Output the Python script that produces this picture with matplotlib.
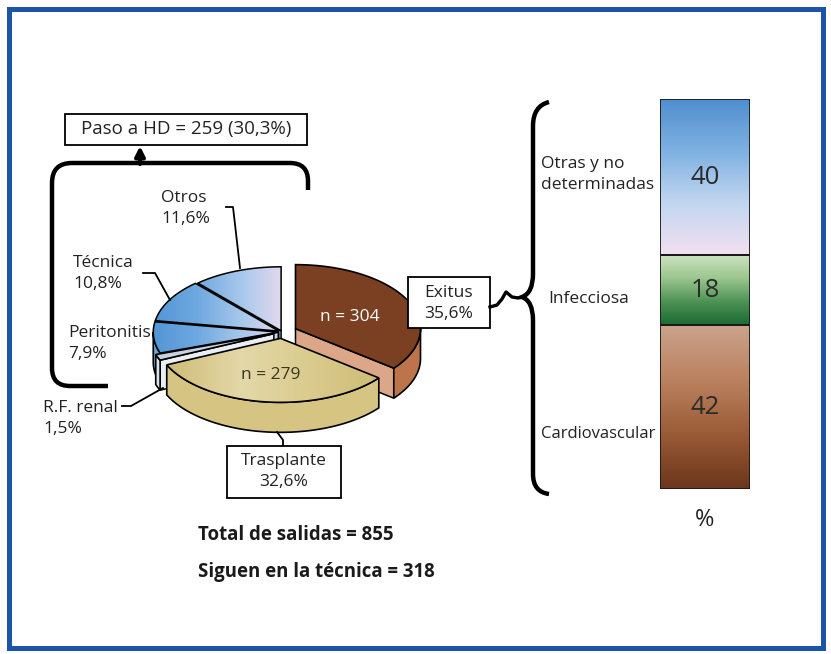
import numpy as np
import matplotlib
matplotlib.use('Agg')
import matplotlib.pyplot as plt
from matplotlib.patches import Polygon, Rectangle, PathPatch
from matplotlib.path import Path
from matplotlib.colors import LinearSegmentedColormap

plt.rcParams['font.family'] = ['Open Sans', 'DejaVu Sans']

# ---- datos ----
causas = ['Exitus', 'Trasplante', 'R.F. renal', 'Peritonitis', 'Técnica', 'Otros']
porcentajes = [35.6, 32.6, 1.5, 7.9, 10.8, 11.6]
n_exitus = 304
n_trasplante = 279
paso_hd = 259
paso_hd_pct = '30,3'
total_salidas = 855
siguen_tecnica = 318
causas_exitus = ['Cardiovascular', 'Infecciosa', 'Otras y no\ndeterminadas']
pct_exitus = [42, 18, 40]


def fmt(v):
    return ('%.1f' % v).replace('.', ',') + '%'


fig = plt.figure(figsize=(8.31, 6.54), dpi=100)
ax = fig.add_axes([0, 0, 1, 1])

# marco azul
ax.add_patch(Rectangle((8.5, 8.5), 814, 639.5, fill=False, ec='#1b55aa', lw=3.6, zorder=1))

# ---- tarta 3D ----
CX, CY, RX, RY, PROF = 282, 332, 125, 64, 30
explode = [0.12, 0.1, 0.07, 0.03, 0.03, 0.02]
col_top = ['#7b3f22', None, '#c6d2df', 'azul', 'azul', 'azul']
col_lado = ['#bd744b', '#d6c482', '#d9e1ea', '#6aa2d9', '#6aa2d9', '#6aa2d9']
col_corte = ['#dca688', '#e2d5a0', '#e9eef3', '#c2d8ee', '#c2d8ee', '#c2d8ee']

cmap_azul = LinearSegmentedColormap.from_list('az', ['#5094d4', '#6ea8e0', '#a9c9ec', '#efdcee'])
cmap_tras = LinearSegmentedColormap.from_list('tr', ['#cfbb76', '#e3d8a8', '#d9c98a', '#ccb872'])
grad_h = np.linspace(0, 1, 256).reshape(1, -1)


def punto(ang, off, dz=0.0):
    a = np.radians(ang)
    return (CX + off[0] + RX * np.cos(a), CY + off[1] - RY * np.sin(a) + dz)


angs = 90 - 3.6 * np.concatenate([[0], np.cumsum(porcentajes)])
sectores = []
for i in range(len(porcentajes)):
    a0, a1 = angs[i], angs[i + 1]
    m = np.radians((a0 + a1) / 2)
    off = (explode[i] * RX * np.cos(m), -explode[i] * RY * np.sin(m))
    sectores.append((a0, a1, off))

orden = sorted(range(len(porcentajes)),
               key=lambda i: -np.sin(np.radians((angs[i] + angs[i + 1]) / 2)))

# caras laterales
for i in orden:
    a0, a1, off = sectores[i]
    apice = (CX + off[0], CY + off[1])
    for a, vis in ((a0, np.cos(np.radians(a0)) < -1e-6), (a1, np.cos(np.radians(a1)) > 1e-6)):
        if vis:
            r = punto(a, off)
            quad = [apice, r, (r[0], r[1] + PROF), (apice[0], apice[1] + PROF)]
            ax.add_patch(Polygon(quad, closed=True, fc=col_corte[i], ec='k', lw=1.1, zorder=2))
    lo, hi = max(a1, -180), min(a0, 0)
    if hi > lo:
        t = np.linspace(hi, lo, 60)
        sup = [punto(a, off) for a in t]
        inf = [punto(a, off, PROF) for a in t[::-1]]
        ax.add_patch(Polygon(sup + inf, closed=True, fc=col_lado[i], ec='k', lw=1.2, zorder=2))

# caras superiores
for i in orden:
    a0, a1, off = sectores[i]
    t = np.linspace(a0, a1, 80)
    pts = [(CX + off[0], CY + off[1])] + [punto(a, off) for a in t]
    if col_top[i] == 'azul':
        poly = Polygon(pts, closed=True, fc='none', ec='k', lw=1.1, zorder=3.1)
        ax.add_patch(poly)
        im = ax.imshow(grad_h, extent=(150, 290, 420, 250), cmap=cmap_azul, aspect='auto', zorder=3)
        im.set_clip_path(poly)
    elif col_top[i] is None:
        poly = Polygon(pts, closed=True, fc='none', ec='k', lw=1.2, zorder=3.1)
        ax.add_patch(poly)
        im = ax.imshow(grad_h, extent=(165, 395, 420, 330), cmap=cmap_tras, aspect='auto', zorder=3)
        im.set_clip_path(poly)
    else:
        ax.add_patch(Polygon(pts, closed=True, fc=col_top[i], ec='k', lw=1.2, zorder=3))

fs = 12.5
ax.text(350, 317, 'n = %d' % n_exitus, color='white', fontsize=fs, ha='center', va='center', zorder=5)
ax.text(271, 375, 'n = %d' % n_trasplante, color='#3b3620', fontsize=fs, ha='center', va='center', zorder=5)

# etiquetas de la tarta
etiq = {'Otros': (161, 198), 'Técnica': (73, 263), 'Peritonitis': (68, 333), 'R.F. renal': (43, 408)}
for nombre, (x, y) in etiq.items():
    p = porcentajes[causas.index(nombre)]
    ax.text(x, y, nombre, fontsize=fs, ha='left', va='center', color='#222')
    ax.text(x, y + 21, fmt(p), fontsize=fs, ha='left', va='center', color='#222')

guias = [[(226, 207), (233, 207), (240, 268)],
         [(143, 273), (155, 273), (170, 300)],
         [(122, 406), (131, 406), (163, 388)],
         [(283, 446), (283, 440), (277, 432)]]
for g in guias:
    g = np.array(g)
    ax.plot(g[:, 0], g[:, 1], color='k', lw=1.3, zorder=4)

# cajas Exitus y Trasplante
ax.add_patch(Rectangle((408, 277), 82, 51, fc='white', ec='k', lw=1.3, zorder=4))
ax.text(449, 293, 'Exitus', fontsize=fs, ha='center', va='center', zorder=5, color='#222')
ax.text(449, 314, fmt(porcentajes[0]), fontsize=fs, ha='center', va='center', zorder=5, color='#222')
ax.add_patch(Rectangle((227, 446), 114, 52, fc='white', ec='k', lw=1.3, zorder=4))
ax.text(284, 461, 'Trasplante', fontsize=fs, ha='center', va='center', zorder=5, color='#222')
ax.text(284, 482, fmt(porcentajes[1]), fontsize=fs, ha='center', va='center', zorder=5, color='#222')

# caja Paso a HD y corchete con flecha
ax.add_patch(Rectangle((65, 114), 242, 31, fc='white', ec='k', lw=1.3, zorder=4))
ax.text(186, 129, 'Paso a HD = %d (%s%%)' % (paso_hd, paso_hd_pct), fontsize=13.5,
        ha='center', va='center', zorder=5, color='#222')
verts = [(108, 386), (70, 386), (52, 386), (52, 368), (52, 183), (52, 163), (72, 163),
         (290, 163), (308, 163), (308, 181), (308, 190)]
codes = [Path.MOVETO, Path.LINETO, Path.CURVE3, Path.CURVE3, Path.LINETO, Path.CURVE3, Path.CURVE3,
         Path.LINETO, Path.CURVE3, Path.CURVE3, Path.LINETO]
ax.add_patch(PathPatch(Path(verts, codes), fill=False, ec='k', lw=3.2, capstyle='butt', zorder=4))
ax.annotate('', xy=(140, 146), xytext=(140, 164),
            arrowprops=dict(arrowstyle='-|>', lw=3, color='k', mutation_scale=14,
                            shrinkA=0, shrinkB=0), zorder=4)

# llave grande
verts = [(549, 102), (533, 106), (533, 126), (533, 274), (533, 293), (522, 297),
         (533, 301), (533, 320), (533, 474), (533, 492), (549, 494)]
codes = [Path.MOVETO, Path.CURVE3, Path.CURVE3, Path.LINETO, Path.CURVE3, Path.CURVE3,
         Path.CURVE3, Path.CURVE3, Path.LINETO, Path.CURVE3, Path.CURVE3]
ax.add_patch(PathPatch(Path(verts, codes), fill=False, ec='k', lw=3.2, zorder=4))
con = np.array([(490, 307), (497, 305), (502, 299), (506, 292), (512, 297), (518, 298), (524, 297)])
ax.plot(con[:, 0], con[:, 1], color='k', lw=2.4, zorder=4, solid_joinstyle='round')

# textos inferiores
ax.text(198, 535, 'Total de salidas = %d' % total_salidas, fontsize=13.4, fontweight='bold',
        ha='left', va='center', color='#1a1a1a')
ax.text(198, 572, 'Siguen en la técnica = %d' % siguen_tecnica, fontsize=13.4, fontweight='bold',
        ha='left', va='center', color='#1a1a1a')

# etiquetas de la barra
ax.text(541, 164, 'Otras y no', fontsize=fs, ha='left', va='center', color='#222')
ax.text(541, 185, 'determinadas', fontsize=fs, ha='left', va='center', color='#222')
ax.text(548, 299, causas_exitus[1], fontsize=fs, ha='left', va='center', color='#222')
ax.text(541, 434, causas_exitus[0], fontsize=12, ha='left', va='center', color='#222')
ax.text(705, 520, '%', fontsize=17, ha='center', va='center', color='#222')

ax.set_xlim(0, 831)
ax.set_ylim(654, 0)
ax.axis('off')

# ---- barra apilada ----
axb = fig.add_axes([660 / 831, 1 - 489 / 654, 90 / 831, 390 / 654])
grad_v = np.linspace(0, 1, 256).reshape(-1, 1)
cmaps = [LinearSegmentedColormap.from_list('cv', ['#cba38c', '#bb825f', '#9a5a36', '#6b361b']),
         LinearSegmentedColormap.from_list('in', ['#cfe5c4', '#9cc78f', '#4f9356', '#1b6a31']),
         LinearSegmentedColormap.from_list('ot', ['#4f8fcf', '#7fb1e2', '#c2d6f0', '#f3e0f0'])]
fondo = np.concatenate([[0], np.cumsum(pct_exitus)[:-1]])
barras = axb.bar(0, pct_exitus, bottom=fondo, width=1, fc='none', ec='#1a1a1a', lw=1.3, zorder=3)
for b, v, y0, cm in zip(barras, pct_exitus, fondo, cmaps):
    im = axb.imshow(grad_v, extent=(-0.5, 0.5, y0, y0 + v), cmap=cm, aspect='auto', zorder=2)
    im.set_clip_path(b)
    axb.text(0, y0 + v / 2, str(v), fontsize=18.5, ha='center', va='center', color='#2a2a2a', zorder=4)
axb.set_xlim(-0.5, 0.5)
axb.set_ylim(0, 100)
axb.axis('off')

fig.savefig('out.png', dpi=100)
